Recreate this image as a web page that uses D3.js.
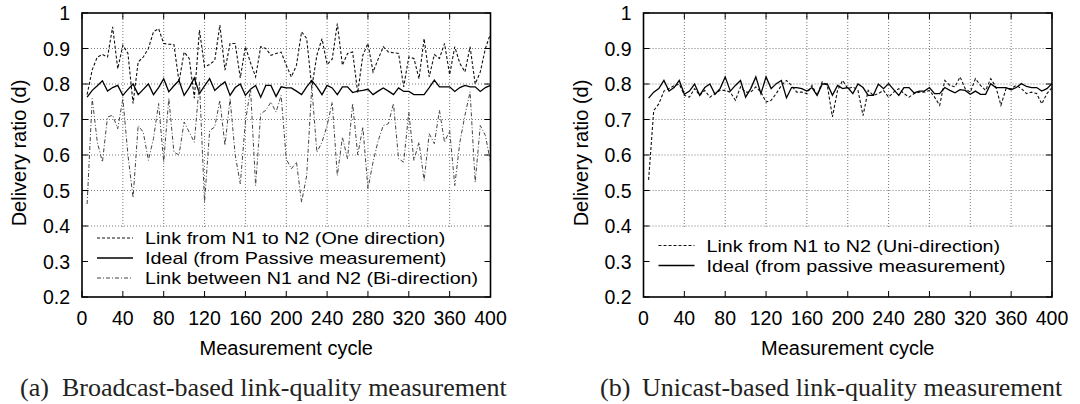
<!DOCTYPE html>
<html>
<head>
<meta charset="utf-8">
<script src="https://cdn.jsdelivr.net/npm/d3@7"></script>
<style>
  body { margin: 0; background: #fff; }
  svg { display: block; }
  .sans { font-family: "Liberation Sans", Arial, Helvetica, sans-serif; fill: #000; }
  .serif { font-family: "Liberation Serif", "Times New Roman", serif; fill: #222; }
</style>
</head>
<body>
<div id="chart"></div>
<script>
// measurement cycles (x values shared by every series)
const cycles = [5,10,15,20,25,30,35,40,45,50,55,60,65,70,75,80,85,90,95,100,
  105,110,115,120,125,130,135,140,145,150,155,160,165,170,175,180,185,190,195,200,
  205,210,215,220,225,230,235,240,245,250,255,260,265,270,275,280,285,290,295,300,
  305,310,315,320,325,330,335,340,345,350,355,360,365,370,375,380,385,390,395,400];

// (a) broadcast-based
const broadOneDir = [0.77,0.84,0.876,0.883,0.876,0.961,0.843,0.909,0.886,0.745,
  0.862,0.876,0.9,0.947,0.956,0.914,0.912,0.911,0.806,0.89,
  0.872,0.76,0.952,0.848,0.855,0.867,0.966,0.839,0.914,0.914,
  0.817,0.905,0.86,0.82,0.905,0.9,0.881,0.886,0.89,0.853,
  0.82,0.853,0.947,0.928,0.79,0.881,0.928,0.855,0.87,0.97,
  0.853,0.886,0.89,0.775,0.881,0.914,0.834,0.87,0.905,0.89,
  0.888,0.886,0.792,0.876,0.872,0.815,0.928,0.82,0.883,0.872,
  0.914,0.826,0.905,0.858,0.834,0.905,0.8,0.834,0.9,0.942];

const broadIdeal = [0.763,0.782,0.795,0.809,0.78,0.79,0.796,0.768,0.785,0.8,
  0.77,0.785,0.8,0.77,0.79,0.815,0.778,0.795,0.81,0.768,
  0.79,0.817,0.773,0.795,0.815,0.782,0.795,0.806,0.768,0.79,
  0.8,0.768,0.785,0.796,0.763,0.796,0.796,0.765,0.792,0.789,
  0.789,0.78,0.77,0.792,0.81,0.792,0.77,0.796,0.789,0.77,
  0.792,0.792,0.776,0.78,0.782,0.785,0.77,0.78,0.789,0.78,
  0.77,0.789,0.779,0.779,0.77,0.77,0.77,0.79,0.811,0.792,
  0.792,0.792,0.779,0.79,0.796,0.792,0.792,0.779,0.79,0.796];

const broadBiDir = [0.462,0.759,0.636,0.58,0.707,0.712,0.674,0.759,0.6,0.48,
  0.683,0.664,0.585,0.646,0.745,0.58,0.76,0.608,0.6,0.693,
  0.664,0.636,0.806,0.467,0.669,0.679,0.754,0.627,0.759,0.6,
  0.519,0.693,0.787,0.514,0.716,0.726,0.749,0.721,0.768,0.589,
  0.561,0.58,0.467,0.542,0.792,0.608,0.636,0.683,0.749,0.542,
  0.65,0.589,0.745,0.6,0.679,0.505,0.58,0.64,0.683,0.688,
  0.745,0.589,0.58,0.721,0.585,0.636,0.528,0.66,0.632,0.726,
  0.636,0.669,0.514,0.636,0.712,0.778,0.523,0.683,0.655,0.58];

// (b) unicast-based
const uniLink = [0.53,0.725,0.744,0.78,0.787,0.795,0.8,0.768,0.763,0.787,
  0.768,0.782,0.763,0.773,0.782,0.782,0.777,0.754,0.792,0.777,
  0.777,0.792,0.777,0.749,0.754,0.773,0.796,0.81,0.796,0.777,
  0.777,0.773,0.796,0.768,0.806,0.796,0.707,0.782,0.81,0.787,
  0.792,0.782,0.711,0.782,0.768,0.773,0.782,0.763,0.777,0.787,
  0.773,0.763,0.773,0.777,0.777,0.782,0.763,0.74,0.81,0.796,
  0.792,0.82,0.787,0.777,0.815,0.796,0.782,0.815,0.792,0.74,
  0.787,0.787,0.796,0.787,0.773,0.777,0.773,0.744,0.773,0.79];

const uniIdeal = [0.76,0.777,0.787,0.81,0.78,0.79,0.81,0.771,0.78,0.8,
  0.768,0.79,0.8,0.771,0.787,0.82,0.78,0.796,0.81,0.763,
  0.787,0.82,0.773,0.82,0.787,0.801,0.81,0.761,0.79,0.79,
  0.787,0.78,0.79,0.768,0.8,0.8,0.768,0.796,0.787,0.79,
  0.773,0.8,0.79,0.768,0.768,0.8,0.787,0.801,0.784,0.768,
  0.79,0.79,0.775,0.78,0.78,0.79,0.773,0.773,0.79,0.782,
  0.775,0.784,0.782,0.771,0.78,0.771,0.771,0.801,0.79,0.79,
  0.79,0.784,0.79,0.801,0.793,0.79,0.79,0.78,0.787,0.801];

const xTicks = [0,40,80,120,160,200,240,280,320,360,400];
const yTicks = [0.2,0.3,0.4,0.5,0.6,0.7,0.8,0.9,1];

const width = 1080, height = 404;

const svg = d3.select("#chart")
  .append("svg")
  .attr("width", width)
  .attr("height", height);

// line looks
const styles = {
  one:   { stroke: "#111", width: 1.1, dash: "3,2" },
  ideal: { stroke: "#000", width: 1.3, dash: null },
  bi:    { stroke: "#444", width: 1, dash: "4,2,1,2" }
};

function drawPanel(cfg) {
  const x = d3.scaleLinear().domain([0, 400]).range([cfg.left, cfg.left + 408.5]);
  const y = d3.scaleLinear().domain([0.2, 1]).range([297, 13]);
  const g = svg.append("g");

  // dotted grid
  g.selectAll(".gx")
    .data(xTicks.slice(1, -1))
    .join("line")
    .attr("x1", d => x(d)).attr("x2", d => x(d))
    .attr("y1", y(1)).attr("y2", y(0.2))
    .attr("stroke", "#777").attr("stroke-dasharray", "1,2");
  g.selectAll(".gy")
    .data(yTicks.slice(1, -1))
    .join("line")
    .attr("x1", x(0)).attr("x2", x(400))
    .attr("y1", d => y(d)).attr("y2", d => y(d))
    .attr("stroke", "#777").attr("stroke-dasharray", "1,2");

  // key background hides the grid below 0.4
  g.append("rect")
    .attr("x", x(0)).attr("y", y(0.4) + 2)
    .attr("width", x(400) - x(0)).attr("height", y(0.2) - y(0.4) - 2)
    .attr("fill", "#fff");

  // series
  const line = d3.line()
    .x((d, i) => x(cycles[i]))
    .y(d => y(d));
  cfg.series.forEach(s => {
    const st = styles[s.style];
    g.append("path")
      .datum(s.values)
      .attr("d", line)
      .attr("fill", "none")
      .attr("stroke", st.stroke)
      .attr("stroke-width", st.width)
      .attr("stroke-dasharray", st.dash)
      .attr("stroke-linejoin", "miter");
  });

  // border
  g.append("rect")
    .attr("x", x(0)).attr("y", y(1))
    .attr("width", x(400) - x(0)).attr("height", y(0.2) - y(1))
    .attr("fill", "none").attr("stroke", "#000").attr("stroke-width", 1.6);

  // inward ticks on all four sides
  const tl = 6;
  xTicks.forEach(t => {
    g.append("line").attr("x1", x(t)).attr("x2", x(t))
      .attr("y1", y(0.2)).attr("y2", y(0.2) - tl).attr("stroke", "#000");
    g.append("line").attr("x1", x(t)).attr("x2", x(t))
      .attr("y1", y(1)).attr("y2", y(1) + tl).attr("stroke", "#000");
  });
  yTicks.forEach(t => {
    g.append("line").attr("x1", x(0)).attr("x2", x(0) + tl)
      .attr("y1", y(t)).attr("y2", y(t)).attr("stroke", "#000");
    g.append("line").attr("x1", x(400)).attr("x2", x(400) - tl)
      .attr("y1", y(t)).attr("y2", y(t)).attr("stroke", "#000");
  });

  // tick labels
  g.selectAll(".yl")
    .data(yTicks)
    .join("text")
    .attr("class", "sans")
    .attr("x", x(0) - 12)
    .attr("y", d => y(d))
    .attr("dy", "0.36em")
    .attr("text-anchor", "end")
    .style("font-size", "19.5px")
    .text(d => d === 1 ? "1" : d3.format(".1f")(d));
  g.selectAll(".xl")
    .data(xTicks)
    .join("text")
    .attr("class", "sans")
    .attr("x", d => x(d))
    .attr("y", 325)
    .attr("text-anchor", "middle")
    .style("font-size", "19.5px")
    .text(d => d);

  // axis titles
  g.append("text")
    .attr("class", "sans")
    .attr("transform", `translate(${x(0) - 63},153) rotate(-90)`)
    .attr("dy", "0.36em")
    .attr("text-anchor", "middle")
    .style("font-size", "20px")
    .text("Delivery ratio (d)");
  g.append("text")
    .attr("class", "sans")
    .attr("x", (x(0) + x(400)) / 2)
    .attr("y", 355)
    .attr("text-anchor", "middle")
    .style("font-size", "20px")
    .text("Measurement cycle");

  // key: smaller type stretched sideways so rows stay apart
  cfg.series.forEach((s, i) => {
    const st = styles[s.style];
    const by = cfg.keyTop + i * 20;
    g.append("line")
      .attr("x1", x(0) + 15).attr("x2", x(0) + 51)
      .attr("y1", by - 6).attr("y2", by - 6)
      .attr("stroke", st.stroke)
      .attr("stroke-width", st.width)
      .attr("stroke-dasharray", st.dash);
    g.append("text")
      .attr("class", "sans")
      .attr("transform", `translate(${x(0) + 63},${by}) scale(1.16,1)`)
      .style("font-size", "17px")
      .text(s.name);
  });

  // caption
  g.append("text")
    .attr("class", "serif")
    .attr("x", cfg.capX)
    .attr("y", 396)
    .style("font-size", "26px")
    .text(cfg.capTag);
  g.append("text")
    .attr("class", "serif")
    .attr("x", cfg.capX + 42)
    .attr("y", 396)
    .style("font-size", "26px")
    .text(cfg.caption);
}

drawPanel({
  left: 82,
  keyTop: 244,
  capX: 20,
  capTag: "(a)",
  caption: "Broadcast-based link-quality measurement",
  series: [
    { name: "Link from N1 to N2 (One direction)", values: broadOneDir, style: "one" },
    { name: "Ideal (from Passive measurement)", values: broadIdeal, style: "ideal" },
    { name: "Link between N1 and N2 (Bi-direction)", values: broadBiDir, style: "bi" }
  ]
});

drawPanel({
  left: 643.5,
  keyTop: 251.5,
  capX: 600,
  capTag: "(b)",
  caption: "Unicast-based link-quality measurement",
  series: [
    { name: "Link from N1 to N2 (Uni-direction)", values: uniLink, style: "one" },
    { name: "Ideal (from passive measurement)", values: uniIdeal, style: "ideal" }
  ]
});
</script>
</body>
</html>
